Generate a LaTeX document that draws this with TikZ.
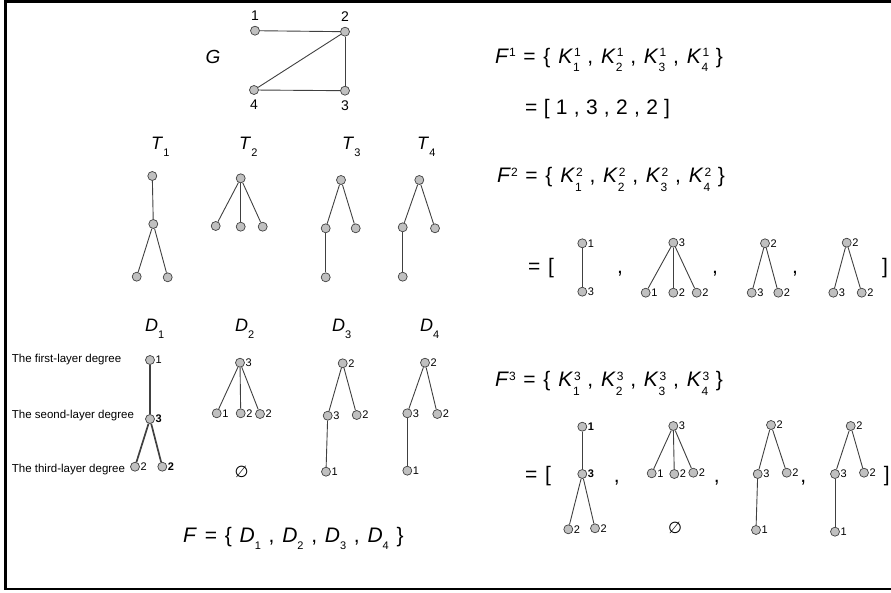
\documentclass[tikz,border=0pt]{standalone}
\usepackage{fontspec}
\setmainfont{Liberation Sans}
\newfontfamily\esfont{DejaVu Sans}
\usetikzlibrary{positioning}
\definecolor{vfill}{HTML}{C0C0C0}
\definecolor{vline}{HTML}{404040}
\tikzset{
  vtx/.style={circle,draw=vline,fill=vfill,line width=0.7pt,minimum size=9pt,inner sep=0pt},
  edg/.style={vline,line width=0.9pt},
  edgb/.style={edg,line width=1.7pt},
  dlab/.style={font=\fontsize{11}{11}\selectfont,inner sep=0.6pt},
  glab/.style={font=\fontsize{14}{14}\selectfont,inner sep=0pt,label distance=5pt},
  ttl/.style={font=\fontsize{18}{18}\selectfont,inner sep=0pt,anchor=base west},
  fml/.style={font={\fontsize{21}{21}\selectfont\spaceskip=0.37em\relax},inner sep=0pt,anchor=base west},
  side/.style={font=\fontsize{11.5}{11.5}\selectfont,inner sep=0pt,anchor=west},
  outline/.style={line width=2.6pt},
}
\newcommand{\vx}[4]{\node[vtx,label={[dlab]right:#4}] (#1) at (#2,#3) {};}% name, x, y, degree
\newcommand{\idx}[2]{\textit{#1}\raisebox{-7pt}{\fontsize{11}{11}\selectfont #2}}% letter, lower index
\newcommand{\fup}[2]{\textit{#1}\raisebox{6.4pt}{\fontsize{12}{12}\selectfont #2}}% letter, upper index
\newcommand{\kup}[3]{\textit{#1}\rlap{\hspace{1pt}\raisebox{6.6pt}{\fontsize{12}{12}\selectfont #2}}\raisebox{-8.5pt}{\fontsize{12}{12}\selectfont #3}}
\newcommand{\eset}{{\esfont\textit{∅}}}

\begin{document}
\begin{tikzpicture}[x=1pt,y=-1pt]
  \useasboundingbox (0,0) rectangle (891,593);
  \draw[outline] (891,1.3) -- (5.3,1.3) -- (5.3,589) -- (891,589);

  % graph G
  \node[ttl,font=\fontsize{19}{19}\selectfont,anchor=center] (gname) at (213,57) {\textit{G}};
  \node[vtx,label={[glab]above:1}] (g1) at (255,30.7) {};
  \node[vtx,label={[glab]above:2}] (g2) at (345,31.7) {};
  \node[vtx,label={[glab]below:3}] (g3) at (345,90.7) {};
  \node[vtx,label={[glab]below:4}] (g4) at (254,90) {};
  \foreach \a/\b in {g1/g2,g2/g4,g2/g3,g4/g3}
    \draw[edg] (\a) -- (\b);

  % spanning trees
  \node[ttl] (tn1) at (151,150) {\idx{T}{1}};
  \node[ttl] (tn2) at (239,150) {\idx{T}{2}};
  \node[ttl] (tn3) at (342,150) {\idx{T}{3}};
  \node[ttl] (tn4) at (417,150) {\idx{T}{4}};
  \vx{t1a}{152.3}{176}{} \vx{t1b}{153.3}{224}{} \vx{t1c}{136.7}{276.7}{} \vx{t1d}{167.7}{277.3}{}
  \vx{t2a}{240.7}{178.3}{} \vx{t2b}{215.7}{226}{} \vx{t2c}{240.7}{226.7}{} \vx{t2d}{262.7}{226.7}{}
  \vx{t3a}{341}{180}{} \vx{t3b}{325.7}{228.3}{} \vx{t3c}{355.7}{228.3}{} \vx{t3d}{325.7}{277.3}{}
  \vx{t4a}{419.3}{180}{} \vx{t4b}{402.7}{227.3}{} \vx{t4c}{435}{228.3}{} \vx{t4d}{402.7}{276.7}{}
  \foreach \a/\b in {t1a/t1b,t1b/t1c,t1b/t1d,t2a/t2b,t2a/t2c,t2a/t2d,
                     t3a/t3b,t3a/t3c,t3b/t3d,t4a/t4b,t4a/t4c,t4b/t4d}
    \draw[edg] (\a) -- (\b);

  % degree trees
  \node[ttl] (dn1) at (145,331) {\idx{D}{1}};
  \node[ttl] (dn2) at (235,331) {\idx{D}{2}};
  \node[ttl] (dn3) at (332,332) {\idx{D}{3}};
  \node[ttl] (dn4) at (420,331) {\idx{D}{4}};
  \node[side] (lay1) at (11.7,360) {The first-layer degree};
  \node[side] (lay2) at (11.7,415.7) {The seond-layer degree};
  \node[side] (lay3) at (11.7,470) {The third-layer degree};
  \vx{d1a}{150}{360}{1} \vx{d1b}{150}{419}{\textbf{3}} \vx{d1c}{135}{466.7}{2} \vx{d1d}{162.3}{466.7}{\textbf{2}}
  \vx{d2a}{240}{362.7}{3} \vx{d2b}{216.7}{413.3}{1} \vx{d2c}{240.7}{413.3}{2} \vx{d2d}{260}{414}{2}
  \vx{d3a}{342.7}{363.3}{2} \vx{d3b}{327.7}{415.7}{3} \vx{d3c}{356.7}{415}{2} \vx{d3d}{326}{471.7}{1}
  \vx{d4a}{425}{362.7}{2} \vx{d4b}{407.3}{413.3}{3} \vx{d4c}{437.3}{414}{2} \vx{d4d}{407.3}{470.7}{1}
  \node[font=\fontsize{16}{16}\selectfont] (d2e) at (241.7,471.7) {\eset};
  \foreach \a/\b in {d1a/d1b,d1b/d1c,d1b/d1d}
    \draw[edgb] (\a) -- (\b);
  \foreach \a/\b in {d2a/d2b,d2a/d2c,d2a/d2d,d3a/d3b,d3a/d3c,d3b/d3d,d4a/d4b,d4a/d4c,d4b/d4d}
    \draw[edg] (\a) -- (\b);
  \node[fml] (fall) at (183,542) {\textit{F} = \{ \idx{D}{1} , \idx{D}{2} , \idx{D}{3} , \idx{D}{4} \}};

  % first layer
  \node[fml] (f1) at (495,63.3) {\fup{F}{1} = \{ \kup{K}{1}{1} , \kup{K}{1}{2} , \kup{K}{1}{3} , \kup{K}{1}{4} \}};
  \node[fml,font={\fontsize{21}{21}\selectfont\spaceskip=0.3em\relax}] (f1v) at (525,115) {= [ 1 , 3 , 2 , 2 ]};

  % second layer
  \node[fml] (f2) at (497,182.7) {\fup{F}{2} = \{ \kup{K}{2}{1} , \kup{K}{2}{2} , \kup{K}{2}{3} , \kup{K}{2}{4} \}};
  \node[fml] (f2v) at (528,274) {= [};
  \node[fml,anchor=base] (f2c1) at (620,274) {,};
  \node[fml,anchor=base] (f2c2) at (715,274) {,};
  \node[fml,anchor=base] (f2c3) at (795,274) {,};
  \node[fml,anchor=base] (f2r) at (885,274) {]};
  \vx{p1a}{582.3}{243.3}{1} \vx{p1b}{582.3}{291.7}{3}
  \vx{p2a}{673.3}{242.7}{3} \vx{p2b}{645.7}{292.7}{1} \vx{p2c}{673.3}{292.7}{2} \vx{p2d}{696.7}{292.7}{2}
  \vx{p3a}{765}{243.3}{2} \vx{p3b}{751.7}{292.7}{3} \vx{p3c}{778.3}{292.7}{2}
  \vx{p4a}{846.7}{242.7}{2} \vx{p4b}{833.3}{292.7}{3} \vx{p4c}{861.7}{292.7}{2}
  \foreach \a/\b in {p1a/p1b,p2a/p2b,p2a/p2c,p2a/p2d,p3a/p3b,p3a/p3c,p4a/p4b,p4a/p4c}
    \draw[edg] (\a) -- (\b);

  % third layer
  \node[fml] (f3) at (495,386.7) {\fup{F}{3} = \{ \kup{K}{3}{1} , \kup{K}{3}{2} , \kup{K}{3}{3} , \kup{K}{3}{4} \}};
  \node[fml] (f3v) at (525,481) {= [};
  \node[fml,anchor=base] (f3c1) at (616.7,482) {,};
  \node[fml,anchor=base] (f3c2) at (716.7,482) {,};
  \node[fml,anchor=base] (f3c3) at (803.3,482) {,};
  \node[fml,anchor=base] (f3r) at (886.7,481) {]};
  \vx{q1a}{582.3}{426.7}{\textbf{1}} \vx{q1b}{582.3}{474}{\textbf{3}} \vx{q1c}{568.3}{529.3}{2} \vx{q1d}{595}{528.3}{2}
  \vx{q2a}{673.3}{426}{3} \vx{q2b}{651.7}{473.3}{1} \vx{q2c}{674.3}{474}{2} \vx{q2d}{693.3}{472.7}{2}
  \vx{q3a}{771}{425}{2} \vx{q3b}{757.7}{474}{3} \vx{q3c}{786.7}{472.7}{2} \vx{q3d}{756}{530}{1}
  \vx{q4a}{850.7}{426}{2} \vx{q4b}{835}{474}{3} \vx{q4c}{864}{472.7}{2} \vx{q4d}{835}{531.7}{1}
  \node[font=\fontsize{16}{16}\selectfont] (q2e) at (675,528.3) {\eset};
  \foreach \a/\b in {q1a/q1b,q1b/q1c,q1b/q1d,q2a/q2b,q2a/q2c,q2a/q2d,
                     q3a/q3b,q3a/q3c,q3b/q3d,q4a/q4b,q4a/q4c,q4b/q4d}
    \draw[edg] (\a) -- (\b);
\end{tikzpicture}
\end{document}
